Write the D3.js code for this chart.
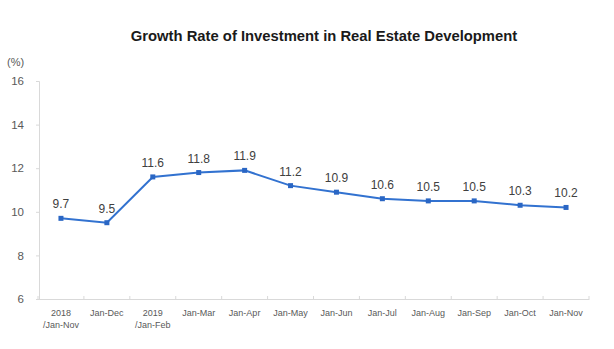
<!DOCTYPE html>
<html>
<head>
<meta charset="utf-8">
<script src="https://cdn.jsdelivr.net/npm/d3@7/dist/d3.min.js"></script>
<style>
  html, body { margin: 0; padding: 0; background: #fff; }
  svg { display: block; font-family: "Liberation Sans", Arial, sans-serif; }
</style>
</head>
<body>
<svg id="chart" width="614" height="349"></svg>
<script>
// Cumulative year-on-year growth of real estate development investment (%)
const categories = [
  "2018\n/Jan-Nov", "Jan-Dec", "2019\n/Jan-Feb", "Jan-Mar", "Jan-Apr", "Jan-May",
  "Jan-Jun", "Jan-Jul", "Jan-Aug", "Jan-Sep", "Jan-Oct", "Jan-Nov"
];
const growthRate = [9.7, 9.5, 11.6, 11.8, 11.9, 11.2, 10.9, 10.6, 10.5, 10.5, 10.3, 10.2];
const yTicks = [6, 8, 10, 12, 14, 16];
const titleText = "Growth Rate of Investment in Real Estate Development";
const unitText = "(%)";

const svg = d3.select("#chart");
const margin = { left: 38, right: 25, top: 81, bottom: 50 };
const width = 614, height = 349;

const x = d3.scaleBand()
  .domain(categories)
  .range([margin.left, width - margin.right]);

const y = d3.scaleLinear()
  .domain([6, 16])
  .range([height - margin.bottom, margin.top]);

const axisColor = "#d9d9d9";
const textColor = "#595959";

// Title
svg.append("text")
  .attr("x", 324)
  .attr("y", 41)
  .attr("text-anchor", "middle")
  .attr("font-size", 14.8)
  .attr("font-weight", "bold")
  .attr("fill", "#1a1a1a")
  .text(titleText);

// Unit label
svg.append("text")
  .attr("x", 7)
  .attr("y", 66)
  .attr("font-size", 11)
  .attr("fill", textColor)
  .text(unitText);

// Y axis
const yAxis = svg.append("g")
  .attr("transform", `translate(${margin.left + 1},0)`)
  .call(d3.axisLeft(y).tickValues(yTicks).tickSize(3).tickPadding(12));
yAxis.select(".domain").attr("stroke", axisColor);
yAxis.selectAll(".tick line").attr("stroke", axisColor);
yAxis.selectAll(".tick text")
  .attr("font-size", 11.5)
  .attr("fill", textColor)
  .attr("font-family", "Liberation Sans, Arial, sans-serif");

// X axis
const xAxis = svg.append("g")
  .attr("transform", `translate(0,${height - margin.bottom})`)
  .call(d3.axisBottom(x).tickSize(0).tickFormat(""));
xAxis.select(".domain").attr("stroke", axisColor);
xAxis.selectAll(".tick").remove();

// Category boundary ticks
const boundaries = categories.map(c => x(c)).concat([x(categories[categories.length - 1]) + x.bandwidth()]);
xAxis.selectAll("line.bound")
  .data(boundaries)
  .join("line")
  .attr("class", "bound")
  .attr("x1", d => d).attr("x2", d => d)
  .attr("y1", 0).attr("y2", -3)
  .attr("stroke", axisColor);

// Category labels (two-line where needed)
const labels = svg.append("g")
  .selectAll("text")
  .data(categories)
  .join("text")
  .attr("x", d => x(d) + x.bandwidth() / 2)
  .attr("y", height - margin.bottom + 17)
  .attr("text-anchor", "middle")
  .attr("font-size", 9)
  .attr("fill", textColor);
labels.each(function (d) {
  const parts = d.split("\n");
  d3.select(this).selectAll("tspan")
    .data(parts)
    .join("tspan")
    .attr("x", x(d) + x.bandwidth() / 2)
    .attr("dy", (p, i) => i === 0 ? 0 : 12)
    .text(p => p);
});

const cx = (d, i) => x(categories[i]) + x.bandwidth() / 2;

// Line
const line = d3.line()
  .x((d, i) => cx(d, i))
  .y(d => y(d));

svg.append("path")
  .datum(growthRate)
  .attr("d", line)
  .attr("fill", "none")
  .attr("stroke", "#3272d0")
  .attr("stroke-width", 2);

// Markers
svg.append("g")
  .selectAll("rect")
  .data(growthRate)
  .join("rect")
  .attr("x", (d, i) => cx(d, i) - 2.5)
  .attr("y", d => y(d) - 2.5)
  .attr("width", 5)
  .attr("height", 5)
  .attr("fill", "#2a66c4");

// Value labels
svg.append("g")
  .selectAll("text")
  .data(growthRate)
  .join("text")
  .attr("x", (d, i) => cx(d, i))
  .attr("y", d => y(d) - 10)
  .attr("text-anchor", "middle")
  .attr("font-size", 12)
  .attr("fill", "#404040")
  .text(d => d.toFixed(1));
</script>
</body>
</html>
